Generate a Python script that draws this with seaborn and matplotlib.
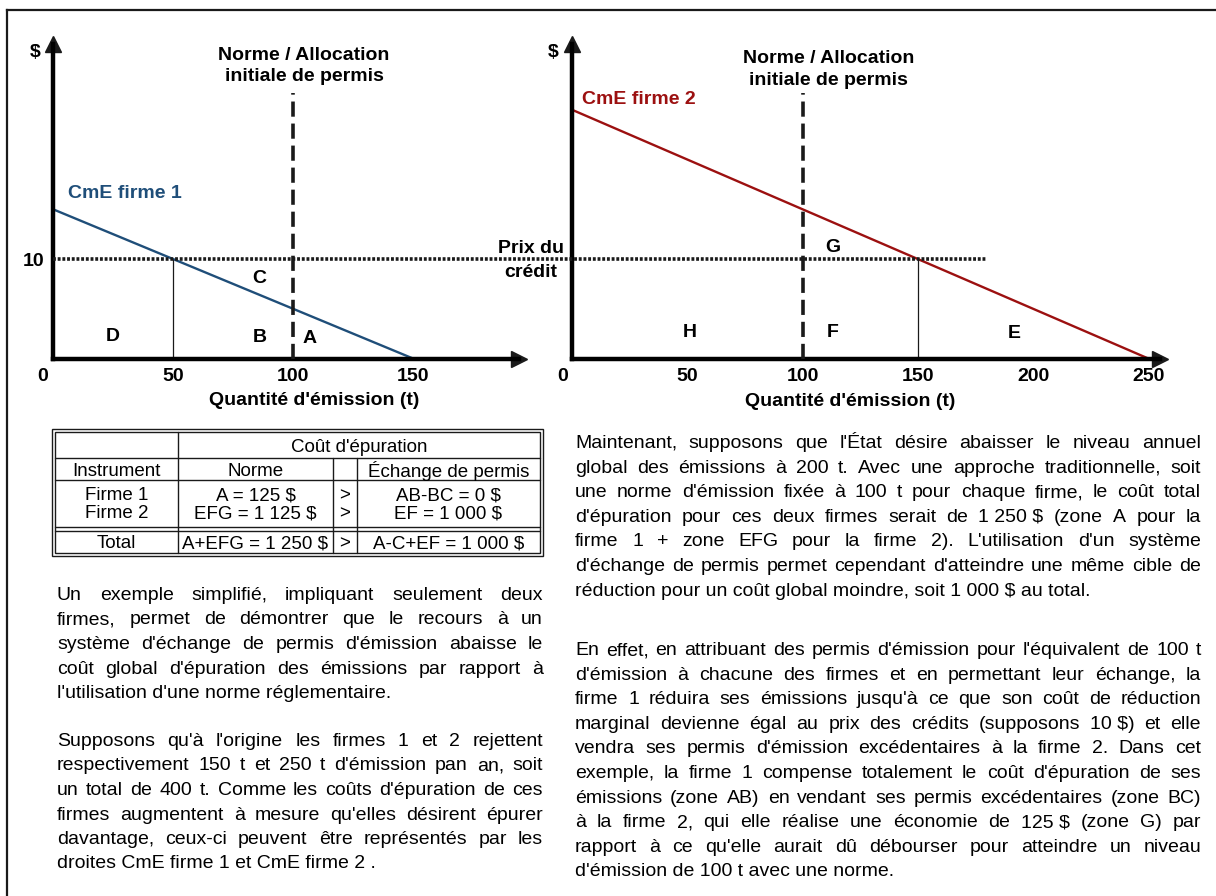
import matplotlib
matplotlib.use("Agg")
import matplotlib.pyplot as plt
from matplotlib.patches import Rectangle
from matplotlib.transforms import ScaledTranslation
import seaborn as sns
import pandas as pd

# ---- donnees des deux graphiques ----
q_firme1 = [0, 150]
cme_firme1 = [15, 0]
q_firme2 = [0, 250]
cme_firme2 = [25, 0]
norme = 100
norme_haut = 26.7
prix = 10
prix_fin = 180
q_equilibre1 = 50
q_equilibre2 = 150
xticks1 = [0, 50, 100, 150]
xticks2 = [0, 50, 100, 150, 200, 250]
yticks1 = [10]
zones1 = ["C", "D", "B", "A"]
zones2 = ["G", "H", "F", "E"]

# ---- tableau ----
table_header = "Coût d'épuration"
table_cols = ["Instrument", "Norme", "", "Échange de permis"]
table_firmes = [["Firme 1", "A = 125 $", ">", "AB-BC = 0 $"],
                ["Firme 2", "EFG = 1 125 $", ">", "EF = 1 000 $"]]
table_total = ["Total", "A+EFG = 1 250 $", ">", "A-C+EF = 1 000 $"]

# ---- textes ----
NB = "\u00a0"
para1 = ["Un exemple simplifié, impliquant seulement deux",
         "firmes, permet de démontrer que le recours à un",
         "système d'échange de permis d'émission abaisse le",
         "coût global d'épuration des émissions par rapport à",
         "l'utilisation d'une norme réglementaire."]
para2 = ["Supposons qu'à l'origine les firmes 1 et 2 rejettent",
         "respectivement 150 t et 250 t d'émission pan an, soit",
         "un total de 400 t. Comme les coûts d'épuration de ces",
         "firmes augmentent à mesure qu'elles désirent épurer",
         "davantage, ceux-ci peuvent être représentés par les",
         "droites CmE firme 1 et CmE firme 2 ."]
para3 = ["Maintenant, supposons que l'État désire abaisser le niveau annuel",
         "global des émissions à 200 t. Avec une approche traditionnelle, soit",
         "une norme d'émission fixée à 100 t pour chaque firme, le coût total",
         f"d'épuration pour ces deux firmes serait de 1{NB}250{NB}$ (zone A pour la",
         "firme 1 + zone EFG pour la firme 2). L'utilisation d'un système",
         "d'échange de permis permet cependant d'atteindre une même cible de",
         f"réduction pour un coût global moindre, soit 1{NB}000{NB}$ au total."]
para4 = ["En effet, en attribuant des permis d'émission pour l'équivalent de 100 t",
         "d'émission à chacune des firmes et en permettant leur échange, la",
         "firme 1 réduira ses émissions jusqu'à ce que son coût de réduction",
         f"marginal devienne égal au prix des crédits (supposons 10{NB}$) et elle",
         "vendra ses permis d'émission excédentaires à la firme 2. Dans cet",
         "exemple, la firme 1 compense totalement le coût d'épuration de ses",
         "émissions (zone AB) en vendant ses permis excédentaires (zone BC)",
         f"à la firme 2, qui elle réalise une économie de 125{NB}$ (zone G) par",
         "rapport à ce qu'elle aurait dû débourser pour atteindre un niveau",
         "d'émission de 100 t avec une norme."]

blue = "#1F4E79"
red = "#9C1010"

sns.set_theme(style="white")
plt.rcParams["font.family"] = ["Liberation Sans", "DejaVu Sans"]
plt.rcParams["text.color"] = "black"

W, H = 1216, 896
fig = plt.figure(figsize=(W / 100, H / 100), dpi=100)


def box(x0, x1, y_top, y_bot):
    return [x0 / W, 1 - y_bot / H, (x1 - x0) / W, (y_bot - y_top) / H]


bg = fig.add_axes([0, 0, 1, 1])
bg.set_xlim(0, W)
bg.set_ylim(H, 0)
bg.axis("off")

ax1 = fig.add_axes(box(53, 519, 44, 358.5))
ax2 = fig.add_axes(box(572, 1160, 44, 358.5))
ax1.set_xlim(0, (519 - 53) / 2.4)
ax2.set_xlim(0, (1160 - 572) / 2.305)
for ax in (ax1, ax2):
    ax.set_ylim(0, (358.5 - 44) / 9.95)

bold = dict(fontsize=14, fontweight="bold", color="black")

# courbes de cout marginal
df1 = pd.DataFrame({"q": q_firme1, "cme": cme_firme1})
df2 = pd.DataFrame({"q": q_firme2, "cme": cme_firme2})
sns.lineplot(data=df1, x="q", y="cme", ax=ax1, color=blue, lw=1.7, legend=False)
sns.lineplot(data=df2, x="q", y="cme", ax=ax2, color=red, lw=1.7, legend=False)

for ax in (ax1, ax2):
    ax.set_facecolor("none")
    ax.grid(False)
    sns.despine(ax=ax)
    for s in ("left", "bottom"):
        ax.spines[s].set_linewidth(3.2)
        ax.spines[s].set_color("black")
        ax.spines[s].set_capstyle("projecting")
    ax.plot(1, 0, ">", ms=11, color="k", transform=ax.transAxes, clip_on=False)
    ax.plot(0, 1, "^", ms=11, color="k", transform=ax.transAxes, clip_on=False)
    ax.tick_params(length=0, pad=7)
    ax.set_ylabel("")
    ax.vlines(norme, 0, norme_haut, colors="k", lw=2.6,
              linestyles=(0, (4.2, 1.9)), zorder=4)

ax1.vlines(q_equilibre1, 0, prix, colors="k", lw=0.9)
ax2.vlines(q_equilibre2, 0, prix, colors="k", lw=0.9)

# ligne du prix du credit, qui traverse les deux graphiques
x_start = ax2.transData.inverted().transform(ax1.transData.transform((0, prix)))[0]
ax2.hlines(prix, x_start, prix_fin, colors="k", lw=2.6,
           linestyles=(0, (0.8, 0.5)), clip_on=False, zorder=3)

ax1.set_xticks(xticks1)
ax1.set_xticklabels([str(t) for t in xticks1], **bold)
ax1.set_yticks(yticks1)
ax1.set_yticklabels([str(t) for t in yticks1], **bold)
ax1.tick_params(axis="y", pad=6)
ax2.set_xticks(xticks2)
ax2.set_xticklabels([str(t) for t in xticks2], **bold)
ax2.set_yticks([])

for ax, dx in ((ax1, -10), (ax2, -9)):
    lab = ax.get_xticklabels()[0]
    lab.set_transform(lab.get_transform() + ScaledTranslation(dx / 100, 0, fig.dpi_scale_trans))

ax1.set_xlabel("Quantité d'émission (t)", **bold)
ax1.xaxis.set_label_coords(109 / ax1.get_xlim()[1], -0.135)
ax2.set_xlabel("Quantité d'émission (t)", **bold)
ax2.xaxis.set_label_coords(120.6 / ax2.get_xlim()[1], -0.138)
for ax in (ax1, ax2):
    ax.xaxis.label.set_va("center")

ax1.text(-7.5, 30.8, "$", ha="center", va="center", **bold)
ax2.text(-8.2, 30.8, "$", ha="center", va="center", **bold)
ax1.text(104.6, 29.4, "Norme / Allocation\ninitiale de permis", ha="center",
         va="center", linespacing=1.35, **bold)
ax2.text(111.3, 29.05, "Norme / Allocation\ninitiale de permis", ha="center",
         va="center", linespacing=1.35, **bold)
ax1.text(6.25, 16.6, "CmE firme 1", ha="left", va="center", fontsize=14,
         fontweight="bold", color=blue)
ax2.text(4.3, 26.0, "CmE firme 2", ha="left", va="center", fontsize=14,
         fontweight="bold", color=red)
ax2.text(-17.8, 11.1, "Prix du", ha="center", va="center", **bold)
ax2.text(-17.8, 8.6, "crédit", ha="center", va="center", **bold)

for z, (x, y) in zip(zones1, [(86, 8.0), (25, 2.2), (86, 2.1), (107, 2.0)]):
    ax1.text(x, y, z, ha="center", va="center", **bold)
for z, (x, y) in zip(zones2, [(113, 11.2), (51, 2.6), (113, 2.6), (192, 2.5)]):
    ax2.text(x, y, z, ha="center", va="center", **bold)

# cadre exterieur (gauche et haut)
bg.plot([6.5, 6.5], [10, H], color="k", lw=1.6, solid_capstyle="projecting")
bg.plot([6.5, W], [10, 10], color="k", lw=1.6, solid_capstyle="projecting")

# tableau
tl = dict(color="k", lw=1.0)
bg.add_patch(Rectangle((52, 429), 491, 127.5, fill=False, ec="k", lw=1.0))
bg.add_patch(Rectangle((55, 432), 485, 121.5, fill=False, ec="k", lw=1.0))
for y in (458, 480, 527, 531):
    bg.plot([55, 540], [y, y], **tl)
bg.plot([178, 178], [432, 553.5], **tl)
for x in (333, 357):
    bg.plot([x, x], [458, 553.5], **tl)

tt = dict(ha="center", va="center_baseline", fontsize=13.5)
col_x = [116.5, 255.5, 345, 448.5]
bg.text(359, 445, table_header, **tt)
for x, s in zip(col_x, table_cols):
    bg.text(x, 469, s, **tt)
for y, row in zip((494, 512), table_firmes):
    for x, s in zip(col_x, row):
        bg.text(x, y, s, **tt)
for x, s in zip(col_x, table_total):
    bg.text(x, 542, s, **tt)

renderer = fig.canvas.get_renderer()


def text_width(s, size):
    t = bg.text(0, 0, s, fontsize=size)
    w = t.get_window_extent(renderer).width
    t.remove()
    return w


def justify(lines, x0, x1, y0, dy, size):
    target = x1 - x0
    widest = max(text_width(l, size) for l in lines[:-1])
    if widest > 0.98 * target:
        size *= 0.98 * target / widest
    for i, line in enumerate(lines):
        y = y0 + i * dy
        if i == len(lines) - 1:
            bg.text(x0, y, line, fontsize=size, va="baseline", ha="left")
            continue
        words = line.split(" ")
        ws = [text_width(w, size) for w in words]
        gap = (target - sum(ws)) / (len(words) - 1)
        x = x0
        for w, wd in zip(words, ws):
            bg.text(x, y, w, fontsize=size, va="baseline", ha="left")
            x += wd + gap


justify(para1, 57, 543, 600, 24.5, 14)
justify(para2, 57, 543, 746, 24.5, 14)
justify(para3, 575, 1201, 448, 24.6, 14)
justify(para4, 575, 1201, 655, 24.6, 14)

fig.savefig("out.png", dpi=100)
